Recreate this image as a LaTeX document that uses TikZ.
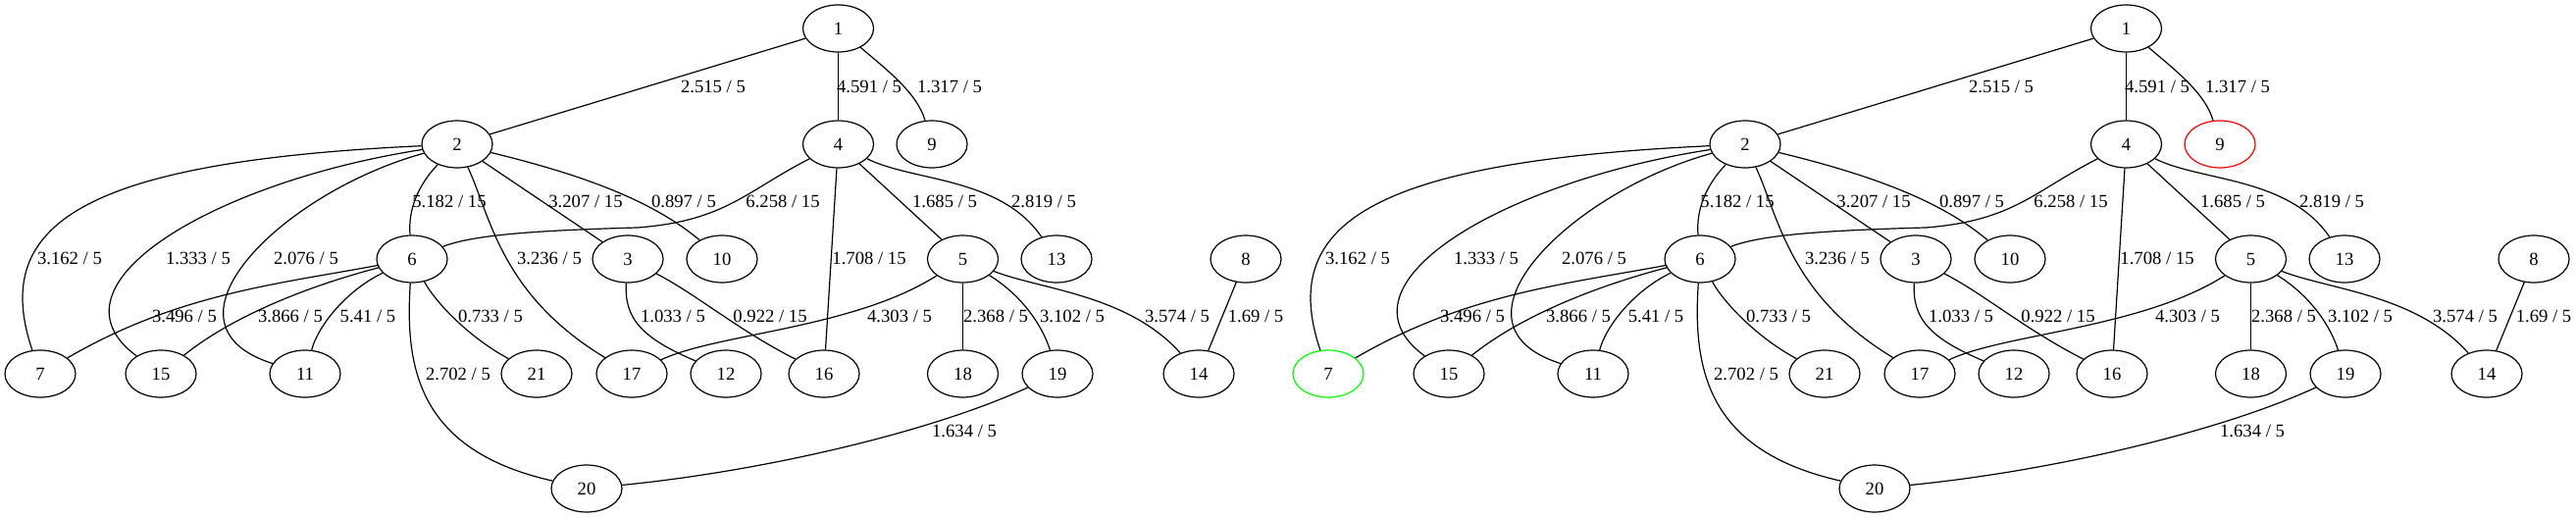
\documentclass[tikz,border=0pt]{standalone}
\usepackage{fontspec}
\setmainfont{Liberation Serif}
\usetikzlibrary{shapes.geometric}
\definecolor{gvred}{RGB}{255,0,0}
\definecolor{gvgreen}{RGB}{0,255,0}
\tikzset{
  gnode/.style={draw, ellipse, minimum width=54pt, minimum height=36pt, inner sep=0pt, line width=0.9pt, font=\fontsize{14}{16}\selectfont},
  elabel/.style={inner sep=0pt, font=\fontsize{14}{16}\selectfont},
  gedge/.style={line width=0.9pt}
}
\newcommand\drawgraph[4]{%
\begin{scope}[shift={(#2,0)}]
\node[gnode] (#1-1) at (854.5,29) {1};
\node[gnode] (#1-2) at (466,147) {2};
\node[gnode] (#1-4) at (854.5,147) {4};
\node[gnode,draw=#3] (#1-9) at (950,147) {9};
\node[gnode] (#1-6) at (420,264) {6};
\node[gnode] (#1-3) at (640,264) {3};
\node[gnode] (#1-10) at (736,264) {10};
\node[gnode] (#1-5) at (981.5,264) {5};
\node[gnode] (#1-13) at (1077,264) {13};
\node[gnode] (#1-8) at (1270,264) {8};
\node[gnode,draw=#4] (#1-7) at (41,381) {7};
\node[gnode] (#1-15) at (164,381) {15};
\node[gnode] (#1-11) at (311,381) {11};
\node[gnode] (#1-21) at (547,381) {21};
\node[gnode] (#1-17) at (644,381) {17};
\node[gnode] (#1-12) at (740,381) {12};
\node[gnode] (#1-16) at (840,381) {16};
\node[gnode] (#1-18) at (981.5,381) {18};
\node[gnode] (#1-19) at (1078,381) {19};
\node[gnode] (#1-14) at (1222,381) {14};
\node[gnode] (#1-20) at (598,498) {20};
% edges
\draw[gedge] (#1-1) -- (#1-2);
\draw[gedge] (#1-1) -- (#1-4);
\draw[gedge] (#1-1) .. controls (905,72) and (935,95) .. (#1-9);
\draw[gedge] (#1-2) .. controls (425,190) and (416,215) .. (#1-6);
\draw[gedge] (#1-2) -- (#1-3);
\draw[gedge] (#1-2) .. controls (580,175) and (660,200) .. (#1-10);
\draw[gedge] (#1-2) .. controls (80,165) and (-10,230) .. (#1-7);
\draw[gedge] (#1-2) .. controls (220,185) and (40,290) .. (#1-15);
\draw[gedge] (#1-2) .. controls (290,195) and (150,330) .. (#1-11);
\draw[gedge] (#1-2) .. controls (500,220) and (510,300) .. (#1-17);
\draw[gedge] (#1-4) .. controls (760,195) and (740,225) .. (650,232) .. controls (540,235) and (480,240) .. (#1-6);
\draw[gedge] (#1-4) -- (#1-16);
\draw[gedge] (#1-4) -- (#1-5);
\draw[gedge] (#1-4) .. controls (930,185) and (1020,180) .. (#1-13);
\draw[gedge] (#1-6) .. controls (280,290) and (180,300) .. (#1-7);
\draw[gedge] (#1-6) .. controls (320,290) and (240,320) .. (#1-15);
\draw[gedge] (#1-6) .. controls (355,295) and (325,330) .. (#1-11);
\draw[gedge] (#1-6) .. controls (445,310) and (480,345) .. (#1-21);
\draw[gedge] (#1-6) .. controls (412,380) and (430,460) .. (#1-20);
\draw[gedge] (#1-3) .. controls (636,325) and (655,345) .. (#1-12);
\draw[gedge] (#1-3) .. controls (710,300) and (750,335) .. (#1-16);
\draw[gedge] (#1-5) .. controls (870,335) and (730,340) .. (#1-17);
\draw[gedge] (#1-5) -- (#1-18);
\draw[gedge] (#1-5) .. controls (1040,300) and (1062,330) .. (#1-19);
\draw[gedge] (#1-5) .. controls (1060,295) and (1150,300) .. (#1-14);
\draw[gedge] (#1-8) -- (#1-14);
\draw[gedge] (#1-19) .. controls (950,440) and (780,480) .. (#1-20);
% labels
\node[elabel] (#1-a1) at (727,88) {2.515 / 5};
\node[elabel] (#1-a2) at (886,88) {4.591 / 5};
\node[elabel] (#1-a3) at (968,88) {1.317 / 5};
\node[elabel] (#1-a4) at (458,205) {5.182 / 15};
\node[elabel] (#1-a5) at (597,205) {3.207 / 15};
\node[elabel] (#1-a6) at (697,205) {0.897 / 5};
\node[elabel] (#1-a7) at (798,205) {6.258 / 15};
\node[elabel] (#1-a8) at (963,205) {1.685 / 5};
\node[elabel] (#1-a9) at (1064,205) {2.819 / 5};
\node[elabel] (#1-a10) at (71,263) {3.162 / 5};
\node[elabel] (#1-a11) at (202,263) {1.333 / 5};
\node[elabel] (#1-a12) at (312,263) {2.076 / 5};
\node[elabel] (#1-a13) at (560,263) {3.236 / 5};
\node[elabel] (#1-a14) at (886,263) {1.708 / 15};
\node[elabel] (#1-a15) at (188,322) {3.496 / 5};
\node[elabel] (#1-a16) at (296,322) {3.866 / 5};
\node[elabel] (#1-a17) at (375,322) {5.41 / 5};
\node[elabel] (#1-a18) at (500,322) {0.733 / 5};
\node[elabel] (#1-a19) at (686,322) {1.033 / 5};
\node[elabel] (#1-a20) at (785,322) {0.922 / 15};
\node[elabel] (#1-a21) at (917,322) {4.303 / 5};
\node[elabel] (#1-a22) at (1015,322) {2.368 / 5};
\node[elabel] (#1-a23) at (1093,322) {3.102 / 5};
\node[elabel] (#1-a24) at (1200,322) {3.574 / 5};
\node[elabel] (#1-a25) at (1280,322) {1.69 / 5};
\node[elabel] (#1-a26) at (467,381) {2.702 / 5};
\node[elabel] (#1-a27) at (983,439) {1.634 / 5};
\end{scope}}
\begin{document}
\begin{tikzpicture}[x=0.75pt,y=-0.75pt]
\useasboundingbox (0,0) rectangle (2626,528);
\fill[white] (0,0) rectangle (2626,528);
\drawgraph{L}{0}{black}{black}
\drawgraph{R}{1313}{gvred}{gvgreen}
\end{tikzpicture}
\end{document}
